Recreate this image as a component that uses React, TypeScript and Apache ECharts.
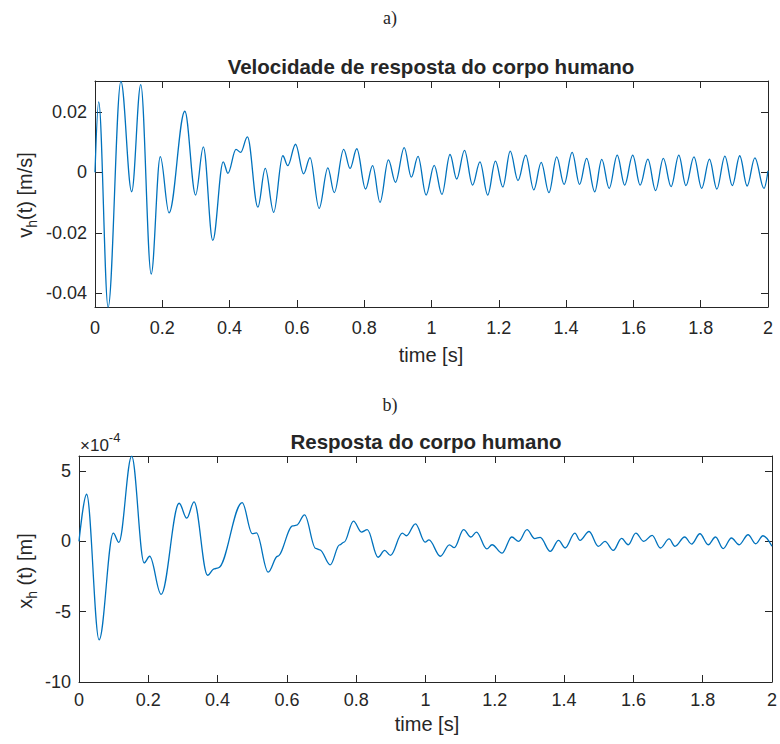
import React, { useEffect, useRef } from 'react';
import * as echarts from 'echarts';

// ---- Data (local extrema / shoulders) ----
// a) velocity v_h(t) [m/s]
const vhTime = [
  0, 0.011, 0.039, 0.077, 0.109, 0.136, 0.167, 0.194, 0.22, 0.267,
  0.299, 0.322, 0.35, 0.381, 0.395, 0.419, 0.433, 0.453, 0.484, 0.506,
  0.531, 0.558, 0.573, 0.596, 0.62, 0.639, 0.666, 0.692, 0.711, 0.739,
  0.758, 0.778, 0.804, 0.825, 0.847, 0.872, 0.893, 0.919, 0.94, 0.96,
  0.984, 1.008, 1.031, 1.055, 1.075, 1.098, 1.122, 1.144, 1.167, 1.19,
  1.212, 1.234, 1.257, 1.28, 1.304, 1.326, 1.349, 1.372, 1.394, 1.418,
  1.44, 1.461, 1.485, 1.506, 1.528, 1.552, 1.574, 1.598, 1.62, 1.643,
  1.666, 1.689, 1.712, 1.735, 1.756, 1.78, 1.803, 1.826, 1.848, 1.872,
  1.894, 1.916, 1.938, 1.961, 1.988, 2.0,
];
const vhValue = [
  0, 0.0233, -0.0446, 0.0301, -0.0064, 0.029, -0.0336, 0.0052, -0.0134, 0.0202,
  -0.0075, 0.0084, -0.0225, 0.0035, -0.0003, 0.0076, 0.0066, 0.0117, -0.0115, 0.0013,
  -0.0132, 0.0055, 0.0022, 0.0093, -0.0005, 0.0049, -0.0119, 0.0015, -0.0067, 0.0076,
  0.0013, 0.0078, -0.0055, 0.0022, -0.0099, 0.0041, -0.0033, 0.0082, -0.0016, 0.0053,
  -0.0075, 0.0023, -0.0073, 0.0059, -0.0022, 0.0073, -0.0042, 0.0035, -0.0075, 0.0037,
  -0.0048, 0.007, -0.0027, 0.0057, -0.0058, 0.0033, -0.0067, 0.0051, -0.004, 0.0066,
  -0.004, 0.0046, -0.0064, 0.0043, -0.0053, 0.0057, -0.0042, 0.0057, -0.0042, 0.0044,
  -0.006, 0.0046, -0.0047, 0.0057, -0.0044, 0.0051, -0.0053, 0.0044, -0.0055, 0.0054,
  -0.0044, 0.0055, -0.0045, 0.0048, -0.0053, 0.0005,
];

// b) displacement x_h(t) in units of 1e-4 m
const xhTime = [
  0, 0.022, 0.058, 0.099, 0.115, 0.152, 0.188, 0.204, 0.237, 0.289,
  0.311, 0.332, 0.371, 0.39, 0.402, 0.471, 0.5, 0.512, 0.546, 0.573,
  0.617, 0.628, 0.651, 0.683, 0.695, 0.725, 0.752, 0.765, 0.792, 0.815,
  0.832, 0.863, 0.882, 0.899, 0.933, 0.945, 0.971, 0.999, 1.01, 1.043,
  1.069, 1.083, 1.11, 1.131, 1.147, 1.177, 1.192, 1.221, 1.249, 1.269,
  1.293, 1.315, 1.331, 1.36, 1.384, 1.403, 1.431, 1.446, 1.472, 1.499,
  1.518, 1.542, 1.566, 1.585, 1.607, 1.63, 1.654, 1.678, 1.703, 1.72,
  1.748, 1.768, 1.792, 1.816, 1.837, 1.859, 1.883, 1.905, 1.931, 1.953,
  1.974, 2.0,
];
const xhValue = [
  0, 3.35, -7.0, 0.59, -0.07, 6.06, -1.53, -1.06, -3.77, 2.71,
  1.65, 2.81, -2.41, -1.95, -1.88, 2.76, 0.55, 0.6, -2.19, -1.06,
  1.1, 1.15, 1.88, -0.5, -0.6, -1.67, -0.25, -0.05, 1.44, 0.66,
  0.83, -1.13, -0.64, -0.99, 0.59, 0.4, 1.25, -0.05, 0.1, -1.06,
  -0.25, -0.45, 0.83, 0.31, 0.66, -0.54, -0.24, -0.83, 0.31, 0.0,
  0.83, 0.2, 0.28, -0.71, 0.07, -0.47, 0.59, 0.07, 0.7, -0.35,
  0.0, -0.64, 0.21, -0.24, 0.59, 0.0, 0.42, -0.47, 0.17, -0.35,
  0.31, -0.19, 0.54, -0.24, 0.31, -0.52, 0.24, -0.24, 0.47, -0.17,
  0.4, -0.35,
];

const timeRange = [0, 2];
const timeStep = 0.2;
const vhRange = [-0.0445, 0.0302];
const vhTicks = [-0.04, -0.02, 0, 0.02];
const xhRange = [-10, 6.07];
const xhTicks = [-10, -5, 0, 5];

// ---- styling ----
const AXIS = '#262626';
const LINE = '#0072BD';
const SANS = '"Liberation Sans", Arial, Helvetica, sans-serif';
const SERIF = '"Liberation Serif", "Times New Roman", serif';

function fmtNum(v: number) {
  const r = Math.round(v * 10000) / 10000;
  return String(r);
}

function makeXAxes(gridIndex: number, labelMargin: number) {
  const common: any = {
    type: 'value',
    gridIndex,
    min: timeRange[0],
    max: timeRange[1],
    interval: timeStep,
    splitLine: { show: false },
    axisLine: { show: true, onZero: false, lineStyle: { color: AXIS, width: 1 } },
    axisTick: { show: true, inside: true, length: 7, lineStyle: { color: AXIS, width: 1 } },
  };
  return [
    {
      ...common,
      position: 'bottom',
      axisLabel: {
        show: true,
        margin: labelMargin,
        fontSize: 18,
        color: AXIS,
        fontFamily: SANS,
        formatter: (v: number) => fmtNum(v),
      },
    },
    { ...common, position: 'top', axisLabel: { show: false } },
  ];
}

function makeYAxes(gridIndex: number, range: number[], ticks: number[]) {
  const common: any = {
    type: 'value',
    gridIndex,
    min: range[0],
    max: range[1],
    splitLine: { show: false },
    axisLine: { show: true, onZero: false, lineStyle: { color: AXIS, width: 1 } },
    axisTick: {
      show: true,
      inside: true,
      length: 7,
      customValues: ticks,
      lineStyle: { color: AXIS, width: 1 },
    },
  };
  return [
    {
      ...common,
      position: 'left',
      axisLabel: {
        show: true,
        margin: 8,
        fontSize: 18,
        color: AXIS,
        fontFamily: SANS,
        customValues: ticks,
        formatter: (v: number) => fmtNum(v),
      },
    },
    { ...common, position: 'right', axisLabel: { show: false } },
  ];
}

function text(x: number, y: number, t: string, size: number, opts: any = {}) {
  return {
    type: 'text',
    x,
    y,
    silent: true,
    rotation: opts.rotation || 0,
    style: {
      text: t,
      fill: AXIS,
      fontSize: size,
      fontFamily: opts.fontFamily || SANS,
      fontWeight: opts.fontWeight || 'normal',
      align: opts.align || 'center',
      verticalAlign: opts.verticalAlign || 'middle',
      rich: opts.rich,
    },
  };
}

const subRich = {
  a: { fontSize: 20, fontFamily: SANS, fill: AXIS, color: AXIS, lineHeight: 27, verticalAlign: 'middle' },
  s: { fontSize: 14, fontFamily: SANS, fill: AXIS, color: AXIS, lineHeight: 27, verticalAlign: 'bottom' },
};
const supRich = {
  a: { fontSize: 17, fontFamily: SANS, fill: AXIS, color: AXIS, lineHeight: 23, verticalAlign: 'bottom' },
  p: { fontSize: 13, fontFamily: SANS, fill: AXIS, color: AXIS, lineHeight: 23, verticalAlign: 'top' },
};

const option: any = {
  animation: false,
  backgroundColor: '#ffffff',
  grid: [
    { left: 95, top: 81, width: 673, height: 226, containLabel: false },
    { left: 79, top: 456, width: 695, height: 226, containLabel: false },
  ],
  xAxis: [...makeXAxes(0, 12), ...makeXAxes(1, 9)],
  yAxis: [...makeYAxes(0, vhRange, vhTicks), ...makeYAxes(1, xhRange, xhTicks)],
  series: [
    {
      type: 'line',
      xAxisIndex: 0,
      yAxisIndex: 0,
      data: vhTime.map((t, i) => [t, vhValue[i]]),
      showSymbol: false,
      smooth: 0.36,
      smoothMonotone: 'x',
      lineStyle: { color: LINE, width: 1.3 },
      itemStyle: { color: LINE },
      silent: true,
    },
    {
      type: 'line',
      xAxisIndex: 2,
      yAxisIndex: 2,
      data: xhTime.map((t, i) => [t, xhValue[i]]),
      showSymbol: false,
      smooth: 0.36,
      smoothMonotone: 'x',
      lineStyle: { color: LINE, width: 1.3 },
      itemStyle: { color: LINE },
      silent: true,
    },
  ],
  graphic: [
    text(390, 18, 'a)', 18, { fontFamily: SERIF }),
    text(431, 66, 'Velocidade de resposta do corpo humano', 20.5, { fontWeight: 'bold' }),
    text(431, 355, 'time [s]', 20),
    text(25, 195, '{a|v}{s|h}{a|(t) [m/s]}', 20, { rotation: Math.PI / 2, rich: subRich }),
    text(390, 405, 'b)', 18, { fontFamily: SERIF }),
    text(426, 441, 'Resposta do corpo humano', 20.5, { fontWeight: 'bold' }),
    text(80, 442, '{a|×10}{p|-4}', 17, { align: 'left', rich: supRich }),
    text(427, 724, 'time [s]', 20),
    text(25, 571, '{a|x}{s|h}{a| (t) [m]}', 20, { rotation: Math.PI / 2, rich: subRich }),
  ],
};

export default function App() {
  const ref = useRef<HTMLDivElement>(null);
  useEffect(() => {
    if (!ref.current) return;
    const chart = echarts.init(ref.current, null, { renderer: 'svg' });
    chart.setOption(option);
    return () => chart.dispose();
  }, []);
  return (
    <div
      ref={ref}
      style={{ position: 'fixed', left: 0, top: 0, width: 780, height: 744, background: '#ffffff' }}
    />
  );
}
